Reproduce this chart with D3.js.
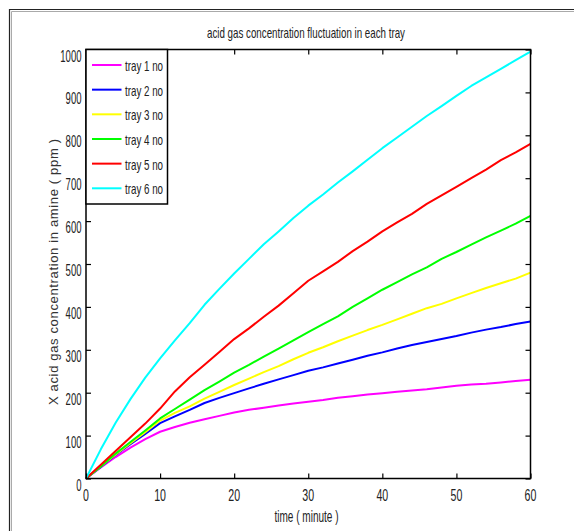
<!DOCTYPE html>
<html>
<head>
<meta charset="utf-8">
<script src="https://cdn.jsdelivr.net/npm/d3@7"></script>
<style>
  html, body { margin: 0; padding: 0; background: #fff; }
  svg { display: block; font-family: "Liberation Sans", Arial, sans-serif; }
</style>
</head>
<body>
<svg id="chart" width="574" height="531"></svg>
<script>
// ---- data ----
const time = [0,2,4,6,8,10,12,14,16,18,20,22,24,26,28,30,32,34,36,38,40,42,44,46,48,50,52,54,56,58,60];
const tray1 = [0,26,50,72,92,109,120,130,138,146,154,160,165,170,175,179,183,188,192,196,199,202,205,208,212,216,219,221,224,227,230];
const tray2 = [0,27,55,80,104,129,145,160,176,188,199,210,221,231,241,251,259,268,277,286,294,303,311,318,325,332,340,347,353,360,366];
const tray3 = [0,28,56,82,108,135,153,168,186,202,218,233,248,262,278,293,306,320,333,346,358,371,384,397,407,420,432,444,455,466,480];
const tray4 = [0,28,58,85,112,140,162,184,206,226,247,265,284,303,322,341,360,378,400,420,440,458,476,492,512,528,545,562,578,594,612];
const tray5 = [0,32,64,96,128,163,203,236,265,295,325,350,377,403,432,461,483,505,530,552,576,597,617,640,660,680,700,720,742,760,780];
const tray6 = [0,68,130,185,235,280,322,362,405,442,478,512,546,576,607,636,662,690,716,743,770,795,820,845,868,892,915,935,955,975,995];
const seriesNames = ["tray 1 no","tray 2 no","tray 3 no","tray 4 no","tray 5 no","tray 6 no"];
const seriesColors = ["#ff00ff","#0000ff","#ffff00","#00ff00","#ff0000","#00ffff"];
const xTicks = [0,10,20,30,40,50,60];
const yTicks = [0,100,200,300,400,500,600,700,800,900,1000];
const titleText = "acid gas concentration fluctuation in each tray";
const xLabelText = "time ( minute )";
const yLabelText = "X acid gas concentration in amine ( ppm )";

const allSeries = [tray1, tray2, tray3, tray4, tray5, tray6];

// ---- layout ----
const svg = d3.select("#chart");
const L = 86, R = 530.5, T = 49.5, B = 478.5;

svg.append("rect").attr("width", 574).attr("height", 531).attr("fill", "#fff");

// outer frame
svg.append("path").attr("d", "M9.5,540 V9.5 H600").attr("fill","none").attr("stroke","#222").attr("stroke-width",1.2);
svg.append("path").attr("d", "M11.5,540 V11.5 H600").attr("fill","none").attr("stroke","#aaa").attr("stroke-width",1);

const x = d3.scaleLinear().domain([0, 60]).range([L, R]);
const y = d3.scaleLinear().domain([0, 1000]).range([B, T]);

// lines
const line = d3.line().x((d, i) => x(time[i])).y(d => y(d));
const g = svg.append("g");
allSeries.forEach((s, k) => {
  g.append("path").datum(s).attr("d", line)
    .attr("fill", "none").attr("stroke", seriesColors[k])
    .attr("stroke-width", 2).attr("stroke-linejoin", "round");
});

// axes (ticks inward, box)
const tickLen = 5;
const axB = svg.append("g").attr("transform", `translate(0,${B})`)
  .call(d3.axisTop(x).tickValues(xTicks).tickSize(tickLen).tickFormat(""));
const axT = svg.append("g").attr("transform", `translate(0,${T})`)
  .call(d3.axisBottom(x).tickValues(xTicks).tickSize(tickLen).tickFormat(""));
const axL = svg.append("g").attr("transform", `translate(${L},0)`)
  .call(d3.axisRight(y).tickValues(yTicks).tickSize(tickLen).tickFormat(""));
const axR = svg.append("g").attr("transform", `translate(${R},0)`)
  .call(d3.axisLeft(y).tickValues(yTicks).tickSize(tickLen).tickFormat(""));
[axB, axT, axL, axR].forEach(a => {
  a.select(".domain").remove();
  a.selectAll(".tick line").attr("stroke", "#000").attr("stroke-width", 1.2);
});
svg.append("rect").attr("x", L).attr("y", T).attr("width", R - L).attr("height", B - T)
  .attr("fill", "none").attr("stroke", "#000").attr("stroke-width", 1.5);

// tick labels
const xl = svg.append("g");
xTicks.forEach(t => {
  const s = String(t);
  xl.append("text").attr("x", x(t)).attr("y", B + 22)
    .attr("text-anchor", "middle").attr("font-size", 16).attr("fill", "#222")
    .attr("textLength", s.length * 5.9).attr("lengthAdjust", "spacingAndGlyphs").text(s);
});
const yl = svg.append("g");
yTicks.forEach(v => {
  const s = String(v);
  yl.append("text").attr("x", 81.5).attr("y", y(v) + 12)
    .attr("text-anchor", "end").attr("font-size", 16).attr("fill", "#222")
    .attr("textLength", s.length * 5.3).attr("lengthAdjust", "spacingAndGlyphs").text(s);
});

// title and labels
svg.append("text").attr("x", 306).attr("y", 38).attr("text-anchor", "middle")
  .attr("font-size", 14.5).attr("fill", "#222")
  .attr("textLength", 198).attr("lengthAdjust", "spacingAndGlyphs").text(titleText);
svg.append("text").attr("x", 306.5).attr("y", 522).attr("text-anchor", "middle")
  .attr("font-size", 16).attr("fill", "#222")
  .attr("textLength", 64).attr("lengthAdjust", "spacingAndGlyphs").text(xLabelText);
svg.append("text").attr("transform", "translate(58,272) rotate(-90)")
  .attr("text-anchor", "middle").attr("font-size", 13).attr("fill", "#333")
  .attr("textLength", 266).attr("lengthAdjust", "spacing").text(yLabelText);

// legend
const lg = svg.append("g");
lg.append("rect").attr("x", L).attr("y", T).attr("width", 81.5).attr("height", 154.5)
  .attr("fill", "#fff").attr("stroke", "#000").attr("stroke-width", 1.5);
const rowY = d3.scaleLinear().domain([0, 5]).range([65, 188.3]);
seriesNames.forEach((n, k) => {
  const yy = rowY(k);
  lg.append("line").attr("x1", 92).attr("x2", 121.5).attr("y1", yy).attr("y2", yy)
    .attr("stroke", seriesColors[k]).attr("stroke-width", 2);
  lg.append("text").attr("x", 125).attr("y", yy + 6).attr("font-size", 15)
    .attr("fill", "#222").attr("textLength", 38).attr("lengthAdjust", "spacingAndGlyphs").text(n);
});
</script>
</body>
</html>
